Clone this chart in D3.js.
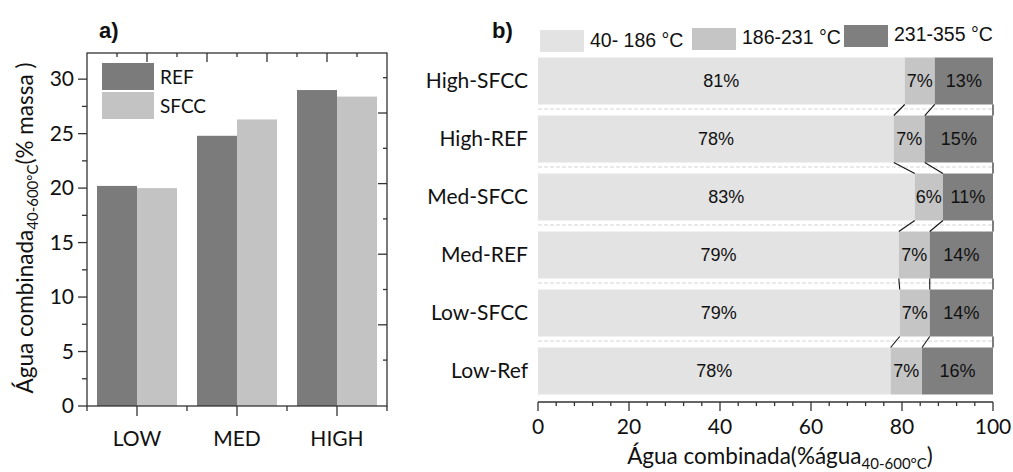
<!DOCTYPE html>
<html>
<head>
<meta charset="utf-8">
<script src="https://cdn.jsdelivr.net/npm/d3@7"></script>
<style>
  body { margin: 0; background: #fff; }
  svg { display: block; }
  .cal { font-family: Lato, "Open Sans", sans-serif; fill: #111; }
  .ari { font-family: "Liberation Sans", Arial, sans-serif; fill: #111; }
</style>
</head>
<body>
<div id="chart"></div>
<script>
// panel a data
var groups = ["LOW", "MED", "HIGH"];
var seriesA = ["REF", "SFCC"];
var refVals = [20.2, 24.8, 29.0];
var sfccVals = [20.0, 26.3, 28.4];
var yTicksA = [0, 5, 10, 15, 20, 25, 30];

// panel b data
var samples = ["High-SFCC", "High-REF", "Med-SFCC", "Med-REF", "Low-SFCC", "Low-Ref"];
var rangeNames = ["40- 186 °C", "186-231 °C", "231-355 °C"];
var lowRange = [80.6, 78.2, 82.8, 79.3, 79.5, 77.5];
var midRange = [6.6, 6.8, 6.2, 6.8, 6.6, 6.9];
var highRange = [12.8, 15.0, 11.0, 13.9, 13.9, 15.6];
var lowLabels = ["81%", "78%", "83%", "79%", "79%", "78%"];
var midLabels = ["7%", "7%", "6%", "7%", "7%", "7%"];
var highLabels = ["13%", "15%", "11%", "14%", "14%", "16%"];
var xTicksB = [0, 20, 40, 60, 80, 100];

var colorsA = ["#7b7b7b", "#c3c3c3"];
var colorsB = ["#e3e3e3", "#c5c5c5", "#7f7f7f"];
var axisCol = "#333";

var svg = d3.select("#chart").append("svg")
	.attr("width", 1013)
	.attr("height", 472);

/* ---------------- panel a ---------------- */
var a = { left: 87, right: 387, top: 53, bottom: 406 };

var x0 = d3.scaleBand().domain(groups).range([a.left, a.right]);
var x1 = d3.scaleBand().domain(seriesA).range([10, 90]);
var yA = d3.scaleLinear().domain([0, 32.4]).range([a.bottom, a.top]);

var gA = svg.append("g");

var rowsA = groups.map((g, i) => ({ group: g, values: [refVals[i], sfccVals[i]] }));

gA.selectAll(".grp")
	.data(rowsA)
	.enter()
	.append("g")
	.attr("class", "grp")
	.attr("transform", (d) => "translate(" + x0(d.group) + ",0)")
	.selectAll("rect")
	.data((d) => d.values.map((v, j) => ({ key: seriesA[j], v: v, j: j })))
	.enter()
	.append("rect")
	.attr("x", (d) => x1(d.key))
	.attr("width", x1.bandwidth())
	.attr("y", (d) => yA(d.v))
	.attr("height", (d) => yA(0) - yA(d.v))
	.attr("fill", (d) => colorsA[d.j]);

// frame
gA.append("rect")
	.attr("x", a.left).attr("y", a.top)
	.attr("width", a.right - a.left).attr("height", a.bottom - a.top)
	.attr("fill", "none").attr("stroke", axisCol).attr("stroke-width", 1.3);

// left axis
var minorA = d3.range(2.5, 32, 5);
gA.selectAll(".ytm").data(minorA).enter().append("line")
	.attr("x1", a.left - 5).attr("x2", a.left)
	.attr("y1", (d) => yA(d)).attr("y2", (d) => yA(d))
	.attr("stroke", axisCol).attr("stroke-width", 1.3);
gA.selectAll(".ytM").data(yTicksA).enter().append("line")
	.attr("x1", a.left - 9).attr("x2", a.left)
	.attr("y1", (d) => yA(d)).attr("y2", (d) => yA(d))
	.attr("stroke", axisCol).attr("stroke-width", 1.3);
gA.selectAll(".ytl").data(yTicksA).enter().append("text")
	.attr("class", "cal")
	.attr("x", a.left - 13)
	.attr("y", (d) => yA(d) + 7)
	.attr("text-anchor", "end")
	.attr("font-size", 21)
	.text((d) => d);

// bottom axis
var bottomTicks = d3.range(0, 7).map((i) => a.left + i * x0.step() / 2);
gA.selectAll(".xt").data(bottomTicks).enter().append("line")
	.attr("x1", (d) => d).attr("x2", (d) => d)
	.attr("y1", a.bottom).attr("y2", (d, i) => a.bottom + (i % 2 ? 10 : 5))
	.attr("stroke", axisCol).attr("stroke-width", 1.3);
gA.selectAll(".xtl").data(groups).enter().append("text")
	.attr("class", "cal")
	.attr("x", (d) => x0(d) + x0.bandwidth() / 2)
	.attr("y", 446)
	.attr("text-anchor", "middle")
	.attr("font-size", 21)
	.text((d) => d);

// top axis (inward ticks)
var topScale = d3.scaleLinear().domain([0, 10]).range([a.left, a.right]);
gA.selectAll(".tt").data(d3.range(1, 10)).enter().append("line")
	.attr("x1", (d) => topScale(d)).attr("x2", (d) => topScale(d))
	.attr("y1", a.top).attr("y2", (d) => a.top + (d % 2 ? 4 : 9))
	.attr("stroke", axisCol).attr("stroke-width", 1.3);

// right axis (inward ticks)
var rightScale = d3.scaleLinear().domain([-1.3, 8.7]).range([a.bottom, a.top]);
gA.selectAll(".rt").data(d3.range(0, 9)).enter().append("line")
	.attr("x1", a.right).attr("x2", (d) => a.right - (d % 2 ? 9 : 4))
	.attr("y1", (d) => rightScale(d)).attr("y2", (d) => rightScale(d))
	.attr("stroke", axisCol).attr("stroke-width", 1.3);

// legend a
var legA = gA.selectAll(".legA").data(seriesA).enter().append("g")
	.attr("transform", (d, i) => "translate(102," + (63 + i * 29) + ")");
legA.append("rect")
	.attr("width", 52).attr("height", 27)
	.attr("fill", (d, i) => colorsA[i]);
legA.append("text")
	.attr("class", "cal")
	.attr("x", 58).attr("y", 21)
	.attr("font-size", 19)
	.text((d) => d);

// y title
var yTitle = gA.append("text")
	.attr("class", "cal")
	.attr("transform", "translate(33,228) rotate(-90)")
	.attr("text-anchor", "middle")
	.attr("font-size", 22.5);
yTitle.append("tspan").text("Água combinada");
yTitle.append("tspan").attr("font-size", 15).attr("dy", 5).text("40-600°C");
yTitle.append("tspan").attr("dy", -5).text("(% massa )");

gA.append("text")
	.attr("class", "ari")
	.attr("x", 99).attr("y", 38)
	.attr("font-size", 22).attr("font-weight", "bold")
	.text("a)");

/* ---------------- panel b ---------------- */
var xB = d3.scaleLinear().domain([0, 100]).range([538, 993]);
var yB = d3.scaleBand().domain(samples).range([52, 400])
	.paddingInner(0.19).paddingOuter(0.095);

var gB = svg.append("g");

var rowsB = samples.map((s, i) => {
	var vals = [lowRange[i], midRange[i], highRange[i]];
	var labs = [lowLabels[i], midLabels[i], highLabels[i]];
	var c = 0;
	var segs = vals.map((v, j) => {
		var seg = { j: j, x0: c, x1: c + v, label: labs[j] };
		c += v;
		return seg;
	});
	return { name: s, segs: segs };
});

// dashed separators in the gaps
gB.selectAll(".sep").data(samples.slice(0, -1)).enter().append("line")
	.attr("x1", xB(0)).attr("x2", xB(100))
	.attr("y1", (d) => yB(d) + yB.bandwidth() + 4.5)
	.attr("y2", (d) => yB(d) + yB.bandwidth() + 4.5)
	.attr("stroke", "#d6d6d6").attr("stroke-width", 1.2)
	.attr("stroke-dasharray", "4,2");

var rowG = gB.selectAll(".row").data(rowsB).enter().append("g")
	.attr("transform", (d) => "translate(0," + yB(d.name) + ")");

rowG.selectAll("rect").data((d) => d.segs).enter().append("rect")
	.attr("x", (d) => xB(d.x0))
	.attr("width", (d) => xB(d.x1) - xB(d.x0))
	.attr("height", yB.bandwidth())
	.attr("fill", (d) => colorsB[d.j]);

rowG.selectAll(".pct").data((d) => d.segs).enter().append("text")
	.attr("class", "ari")
	.attr("x", (d) => (xB(d.x0) + xB(d.x1)) / 2)
	.attr("y", yB.bandwidth() / 2 + 6)
	.attr("text-anchor", "middle")
	.attr("font-size", 18)
	.text((d) => d.label);

// connector lines between stacked bars
var links = [];
for (var i = 0; i < rowsB.length - 1; i++) {
	var up = rowsB[i], dn = rowsB[i + 1];
	for (var j = 0; j < 3; j++) {
		links.push({
			xa: up.segs[j].x1, ya: yB(up.name) + yB.bandwidth(),
			xb: dn.segs[j].x1, yb: yB(dn.name)
		});
	}
}
gB.selectAll(".link").data(links).enter().append("line")
	.attr("x1", (d) => xB(d.xa)).attr("y1", (d) => d.ya)
	.attr("x2", (d) => xB(d.xb)).attr("y2", (d) => d.yb)
	.attr("stroke", "#111").attr("stroke-width", 1.1);

// category labels
gB.selectAll(".cat").data(samples).enter().append("text")
	.attr("class", "cal")
	.attr("x", 528)
	.attr("y", (d) => yB(d) + yB.bandwidth() / 2 + 7)
	.attr("text-anchor", "end")
	.attr("font-size", 21)
	.text((d) => d);

// bottom axis b
var axY = 402;
gB.append("line")
	.attr("x1", xB(0)).attr("x2", xB(100))
	.attr("y1", axY).attr("y2", axY)
	.attr("stroke", axisCol).attr("stroke-width", 1.3);
gB.selectAll(".bt").data(d3.range(0, 101, 4)).enter().append("line")
	.attr("x1", (d) => xB(d)).attr("x2", (d) => xB(d))
	.attr("y1", axY).attr("y2", (d) => axY + (d % 20 === 0 ? 9 : 4))
	.attr("stroke", axisCol).attr("stroke-width", 1.3);
gB.selectAll(".btl").data(xTicksB).enter().append("text")
	.attr("class", "cal")
	.attr("x", (d) => xB(d))
	.attr("y", 434)
	.attr("text-anchor", "middle")
	.attr("font-size", 21)
	.text((d) => d);

var xTitle = gB.append("text")
	.attr("class", "cal")
	.attr("x", 780).attr("y", 464)
	.attr("text-anchor", "middle")
	.attr("font-size", 22.5);
xTitle.append("tspan").text("Água combinada(%água");
xTitle.append("tspan").attr("font-size", 15).attr("dy", 5).text("40-600°C");
xTitle.append("tspan").attr("dy", -5).text(")");

// legend b
var legPos = [[540, 30, 49], [692, 28, 46], [844, 25, 43]];
var legB = gB.selectAll(".legB").data(rangeNames).enter().append("g")
	.attr("transform", (d, i) => "translate(" + legPos[i][0] + ",0)");
legB.append("rect")
	.attr("y", (d, i) => legPos[i][1])
	.attr("width", 44).attr("height", 22)
	.attr("fill", (d, i) => colorsB[i]);
legB.append("text")
	.attr("class", "ari")
	.attr("x", 50)
	.attr("y", (d, i) => legPos[i][2] - 2)
	.attr("font-size", 19.5)
	.text((d) => d);

gB.append("text")
	.attr("class", "ari")
	.attr("x", 492).attr("y", 38)
	.attr("font-size", 22).attr("font-weight", "bold")
	.text("b)");
</script>
</body>
</html>
